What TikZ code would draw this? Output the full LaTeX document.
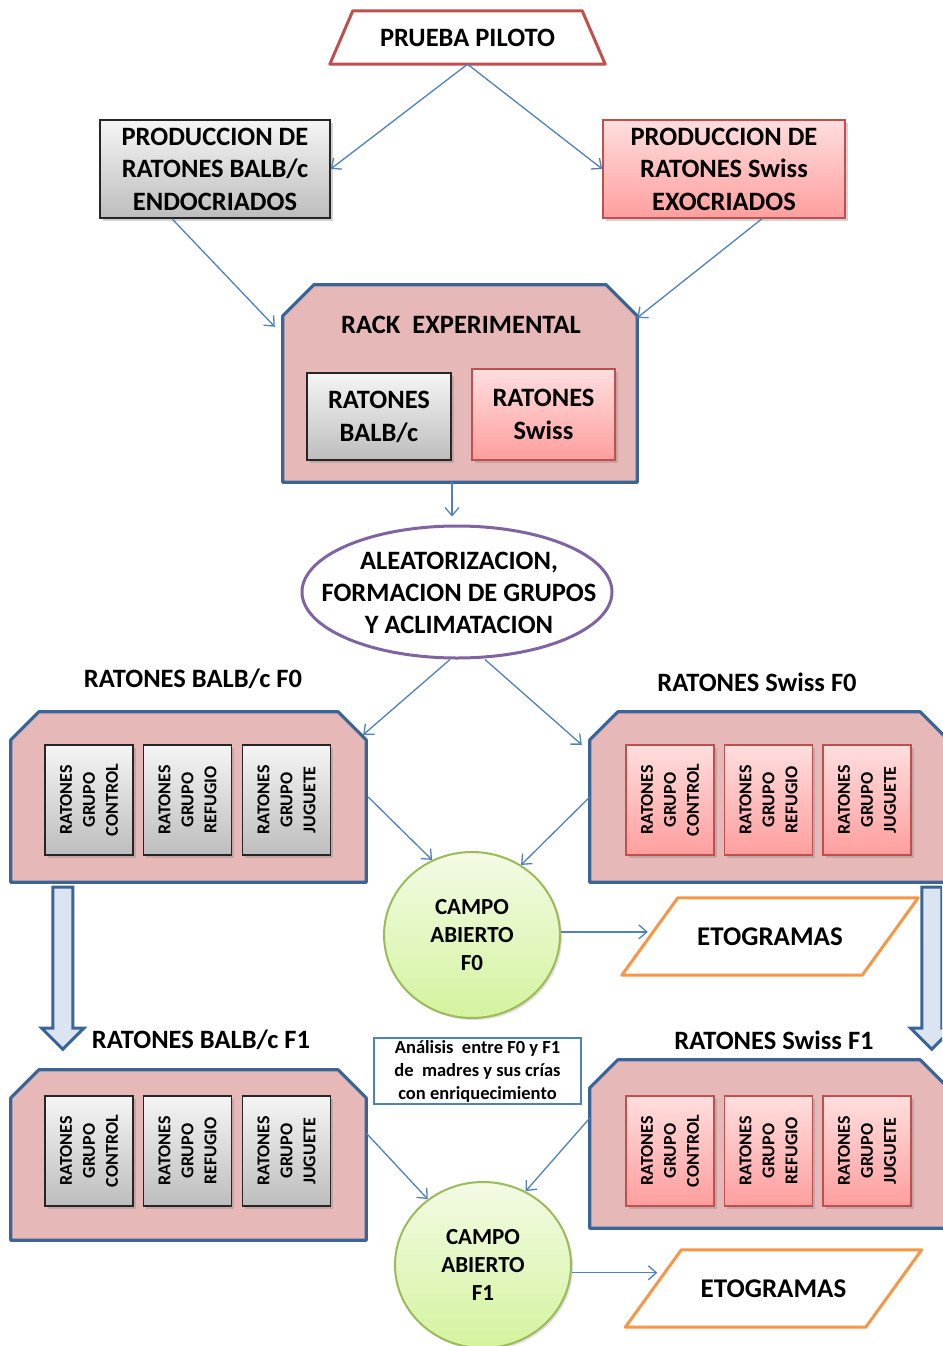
\documentclass[tikz,border=0pt]{standalone}
\usepackage{fontspec}
\setmainfont{Carlito}
\usetikzlibrary{arrows.meta,shadows,shapes.geometric,calc}
\pgfdeclarelayer{bg}
\pgfsetlayers{bg,main}

\definecolor{linkblue}{HTML}{4F81BD}
\definecolor{frameblue}{HTML}{3B6497}
\definecolor{rackpink}{HTML}{E6B9B8}
\definecolor{redline}{HTML}{C0504D}
\definecolor{pinktop}{HTML}{FFDEDE}
\definecolor{pinkbot}{HTML}{FF9E9E}
\definecolor{graytop}{HTML}{F5F5F5}
\definecolor{graybot}{HTML}{BDBDBD}
\definecolor{greentop}{HTML}{F3FBE5}
\definecolor{greenbot}{HTML}{D4F39E}
\definecolor{greenline}{HTML}{9BBB59}
\definecolor{orangeline}{HTML}{F79646}
\definecolor{purpleline}{HTML}{8064A2}
\definecolor{arrowfill}{HTML}{DBE5F1}

\newcommand\fsz[2]{\fontsize{#1}{#2}\selectfont}

\begin{document}
\begin{tikzpicture}[x=1pt,y=-1pt,font=\bfseries,
  txt/.style={inner sep=0pt,align=center},
  plain/.style={inner sep=0pt,align=center,rectangle},
  link/.style={draw=linkblue,line width=1.3pt,
    -{Straight Barb[length=8pt,width=14pt,line width=1.3pt]}},
  soft/.style={drop shadow={shadow xshift=2.5pt,shadow yshift=-2.5pt,opacity=.35}},
  graybox/.style={plain,draw=black!85,line width=1.5pt,top color=graytop,
    bottom color=graybot,soft},
  pinkbox/.style={plain,draw=redline,line width=1.5pt,top color=pinktop,
    bottom color=pinkbot,soft},
  container/.style={draw=frameblue,line width=3.2pt,fill=rackpink,line join=round},
  groupbox/.style={minimum width=88pt,minimum height=110pt},
  grouptext/.style={txt,rotate=90,font=\bfseries\fsz{18}{23}},
  campo/.style={ellipse,draw=greenline,line width=2pt,top color=greentop,
    bottom color=greenbot,inner sep=0pt,
    minimum width=176pt,minimum height=166pt,
    drop shadow={shadow xshift=2pt,shadow yshift=-2pt,opacity=.25}},
  campotext/.style={txt,font=\bfseries\fsz{23}{28}},
  etog/.style={plain,minimum width=296pt,minimum height=77pt,font=\bfseries\fsz{27}{30}},
  etogline/.style={draw=orangeline,line width=3pt,fill=white,line join=round},
  blockarrow/.style={draw=frameblue,line width=3pt,fill=arrowfill,line join=miter},
  label/.style={txt,font=\bfseries\fsz{26.5}{30}}]

\clip (0,0) rectangle (942,1346);

% ---------- pilot test and breeding ----------
\node[plain,minimum width=275pt,minimum height=53pt,font=\bfseries\fsz{26.5}{30}]
  (piloto) at (467.5,37.5) {PRUEBA PILOTO};
\node[graybox,minimum width=230pt,minimum height=98pt,font=\bfseries\fsz{26.5}{32.5}]
  (endo) at (215,169) {PRODUCCION DE\\RATONES BALB/c\\ENDOCRIADOS};
\node[pinkbox,minimum width=242pt,minimum height=98pt,font=\bfseries\fsz{26.5}{32.5}]
  (exo) at (724,169) {PRODUCCION DE\\RATONES Swiss\\EXOCRIADOS};

% ---------- experimental rack ----------
\node[plain,minimum width=354pt,minimum height=197pt] (rack) at (460,383.5) {};
\node[txt,font=\bfseries\fsz{26.5}{30}] (racktitle) at (461,325) {RACK\ \ EXPERIMENTAL};
\node[graybox,minimum width=144pt,minimum height=87pt,font=\bfseries\fsz{26.5}{33}]
  (rbalb) at (379,416.5) {RATONES\\BALB/c};
\node[pinkbox,minimum width=143pt,minimum height=91pt,font=\bfseries\fsz{26.5}{33}]
  (rswiss) at (543.5,414.5) {RATONES\\Swiss};

% ---------- randomisation ----------
\node[ellipse,draw=purpleline,line width=3pt,fill=white,inner sep=0pt,
  minimum width=310pt,minimum height=132pt] (aleat) at (457,592) {};
\node[txt,font=\bfseries\fsz{26.5}{32}] (aleattext) at (459,593)
  {ALEATORIZACION,\\FORMACION DE GRUPOS\\Y ACLIMATACION};

% ---------- generation F0 ----------
\node[label] (lblbalb0) at (193,679) {RATONES BALB/c F0};
\node[label] (lblswiss0) at (757,682) {RATONES Swiss F0};
\node[plain,minimum width=355pt,minimum height=170pt] (f0l) at (188.5,797) {};
\node[plain,minimum width=358pt,minimum height=170pt] (f0r) at (769,797) {};

\foreach \n/\x/\g in {a/89/CONTROL,b/187.5/REFUGIO,c/286.5/JUGUETE}{
  \node[graybox,groupbox] (f0l\n) at (\x,800) {};
  \node[grouptext] (f0l\n t) at (f0l\n) {RATONES\\GRUPO\\\g};
}
\foreach \n/\x/\g in {a/670/CONTROL,b/768.5/REFUGIO,c/867/JUGUETE}{
  \node[pinkbox,groupbox] (f0r\n) at (\x,800) {};
  \node[grouptext] (f0r\n t) at (f0r\n) {RATONES\\GRUPO\\\g};
}

\node[campo] (campo0) at (472,935) {};
\node[campotext] (campo0text) at (campo0) {CAMPO\\ABIERTO\\F0};
\node[etog] (etog0) at (770,936.5) {ETOGRAMAS};

% ---------- generation F1 ----------
\node[label] (lblbalb1) at (201,1040) {RATONES BALB/c F1};
\node[label] (lblswiss1) at (774,1040) {RATONES Swiss F1};
\node[plain,draw=linkblue,line width=2.5pt,fill=white,minimum width=207pt,
  minimum height=66pt,font=\bfseries\fsz{18.5}{23}]
  (analisis) at (477.5,1071) {Análisis\ \ entre F0 y F1\\de\ \ madres y sus crías\\con enriquecimiento};
\node[plain,minimum width=355pt,minimum height=170pt] (f1l) at (188.5,1155) {};
\node[plain,minimum width=358pt,minimum height=168pt] (f1r) at (769,1144) {};

\foreach \n/\x/\g in {a/89/CONTROL,b/187.5/REFUGIO,c/286.5/JUGUETE}{
  \node[graybox,groupbox] (f1l\n) at (\x,1151) {};
  \node[grouptext] (f1l\n t) at (f1l\n) {RATONES\\GRUPO\\\g};
}
\foreach \n/\x/\g in {a/670/CONTROL,b/768.5/REFUGIO,c/867/JUGUETE}{
  \node[pinkbox,groupbox] (f1r\n) at (\x,1151) {};
  \node[grouptext] (f1r\n t) at (f1r\n) {RATONES\\GRUPO\\\g};
}

\node[campo] (campo1) at (483,1265) {};
\node[campotext] (campo1text) at (campo1) {CAMPO\\ABIERTO\\F1};
\node[etog] (etog1) at (773.5,1288.5) {ETOGRAMAS};

% ---------- outlines behind the texts ----------
\begin{pgfonlayer}{bg}
  \fill[white] (0,0) rectangle (942,1346);
  \draw[draw=redline,line width=3pt,fill=white,line join=round]
    ([xshift=23pt]piloto.north west) -- ([xshift=-23pt]piloto.north east)
    -- (piloto.south east) -- (piloto.south west) -- cycle;
  \foreach \c/\k in {rack/31,f0l/28,f0r/28,f1l/28,f1r/28}{
    \draw[container]
      ([yshift=-\k pt]\c.north west) -- ([xshift=\k pt]\c.north west)
      -- ([xshift=-\k pt]\c.north east) -- ([yshift=-\k pt]\c.north east)
      -- (\c.south east) -- (\c.south west) -- cycle;
  }
  \foreach \e in {etog0,etog1}{
    \draw[etogline]
      ([xshift=56pt]\e.north west) -- (\e.north east)
      -- ([xshift=-56pt]\e.south east) -- (\e.south west) -- cycle;
  }
\end{pgfonlayer}

% ---------- generation block arrows ----------
\coordinate (downl) at ([xshift=42pt,yshift=-5pt]f0l.south west);
\coordinate (downr) at ([xshift=332pt,yshift=-5pt]f0r.south west);
\foreach \a in {downl,downr}{
  \draw[blockarrow] (\a) -- ++(20,0) -- ++(0,141) -- ++(11,0) -- ++(-21,21)
    -- ++(-21,-21) -- ++(11,0) -- cycle;
}

% ---------- connectors ----------
\draw[link] (piloto.south) -- (endo.east);
\draw[link] (piloto.south) -- (exo.west);
\draw[link] ([xshift=-43pt]endo.south) -- ([xshift=-8pt,yshift=-42pt]rack.north west);
\draw[link] ([xshift=38pt]exo.south) -- ([yshift=-33pt]rack.north east);
\draw[link] ([xshift=-8pt]rack.south) -- ([xshift=-5pt,yshift=8pt]aleat.north);
\draw[link] ([xshift=-7pt]aleat.south) -- ([xshift=-3pt,yshift=-23pt]f0l.north east);
\draw[link] ([xshift=28pt]aleat.south) -- ([xshift=-8pt,yshift=-33pt]f0r.north west);
\draw[link] ([xshift=2pt]f0l.east) -- (campo0.118);
\draw[link] (f0r.west) -- (campo0.55);
\draw[link] (campo0.2) -- ([xshift=26pt]etog0.west |- campo0.2);
\draw[link] ([yshift=22pt]f1l.east) -- (campo1.130);
\draw[link] ([yshift=26pt]f1r.west) -- (campo1.60);
\draw[link] (campo1.-5) -- ([xshift=32pt]etog1.west |- campo1.-5);
\end{tikzpicture}
\end{document}
